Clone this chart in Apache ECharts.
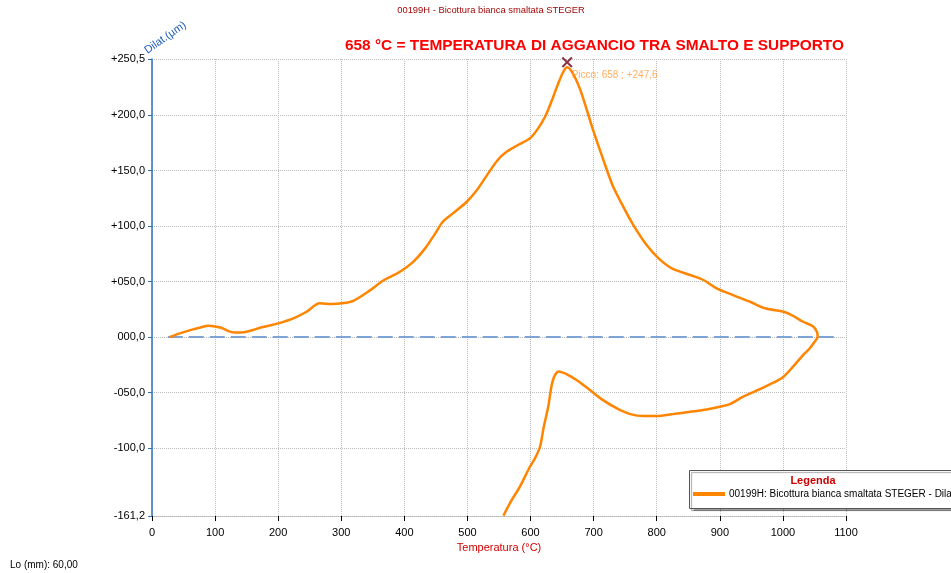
<!DOCTYPE html>
<html>
<head>
<meta charset="utf-8">
<script src="https://cdn.jsdelivr.net/npm/echarts@6/dist/echarts.min.js"></script>
<style>
  html, body { margin: 0; padding: 0; background: #fff; }
  #chart { width: 951px; height: 573px; }
</style>
</head>
<body>
<div id="chart"></div>
<script>
// Heating branch: temperature (°C) and dilatation (µm)
const heatTemp = [28, 44, 65, 78, 89, 100, 110, 121, 131, 145, 160, 171, 185, 200, 224, 245, 266, 285, 301, 319, 346, 366, 393, 414, 433, 449, 461, 477, 499, 515, 531, 548, 562, 580, 599, 612, 623, 634, 644, 652, 658, 667, 678, 689, 700, 721, 731, 747, 763, 784, 803, 824, 853, 874, 895, 921, 948, 972, 1001, 1014, 1032, 1048, 1054];
const heatDil  = [0, 3.3, 6.9, 8.8, 10.2, 9.6, 8.4, 5.4, 4.2, 4.4, 6.4, 8.4, 10.2, 12.3, 16.8, 22.8, 30.4, 29.7, 30.4, 32.7, 42.3, 50.7, 58.8, 67.8, 79.9, 93.4, 103.9, 111.4, 121.9, 132.4, 145.9, 159.5, 166.9, 173, 179, 188, 198.5, 213.5, 228.6, 239, 243, 237.6, 224, 205, 185, 150.5, 135.4, 117.4, 100.9, 82.9, 70.9, 61.9, 55.9, 51.4, 43.9, 37.8, 31.8, 25.9, 22.8, 19.8, 13.8, 9.5, 4.5];

// Cooling branch
const coolTemp = [1055, 1050, 1042, 1032, 1016, 1001, 985, 958, 937, 916, 900, 879, 853, 826, 800, 779, 758, 737, 715, 694, 673, 657, 650, 644, 640, 636, 633, 628, 621, 615, 607, 599, 583, 570, 557];
const coolDil  = [0.3, -4.5, -10.5, -16.2, -26.7, -35.7, -41.1, -48.3, -53.7, -60.4, -62.8, -65.2, -67.3, -69.4, -71.2, -71.2, -69.4, -64.3, -56.8, -47.7, -38.7, -33.3, -31.8, -31.1, -33, -38, -44.8, -62.8, -80.8, -98.8, -109.3, -116.8, -134.9, -147, -161];

// Peak reading
const peakTemp = 658;
const peakDil = 247.6;

// Zero reference line extent (°C)
const zeroLineTemp = [25, 1090];

// Axis ticks
const xMin = 0, xMax = 1100, xStep = 100;
const yTickValues = [-161.2, -100, -50, 0, 50, 100, 150, 200, 250.5];
const yTickLabels = ['-161,2', '-100,0', '-050,0', '000,0', '+050,0', '+100,0', '+150,0', '+200,0', '+250,5'];

const seriesName = '00199H: Bicottura bianca smaltata STEGER - Dilatazione';
const FONT = '"Liberation Sans", Arial, sans-serif';

const curve = heatTemp.map((t, i) => [t, heatDil[i]])
  .concat(coolTemp.map((t, i) => [t, coolDil[i]]));

function yLabel(v) {
  let best = 0;
  yTickValues.forEach((t, i) => { if (Math.abs(t - v) < Math.abs(yTickValues[best] - v)) best = i; });
  return yTickLabels[best];
}

const peakText = 'Picco: ' + peakTemp + ' ; +' + peakDil.toFixed(1).replace('.', ',');

const chart = echarts.init(document.getElementById('chart'), null, { renderer: 'canvas' });
chart.setOption({
  animation: false,
  backgroundColor: '#ffffff',
  textStyle: { fontFamily: FONT },
  grid: { left: 152, right: 105, top: 59, bottom: 57, containLabel: false },
  xAxis: {
    type: 'value',
    min: xMin, max: xMax, interval: xStep,
    name: 'Temperatura (°C)',
    nameLocation: 'middle',
    nameGap: 25,
    nameTextStyle: { color: '#d40000', fontSize: 11, fontFamily: FONT, verticalAlign: 'top' },
    axisLine: { show: true, onZero: false, lineStyle: { color: '#b5b5b5', width: 1, type: 'dotted' } },
    axisTick: { show: true, length: 5, lineStyle: { color: '#000' } },
    axisLabel: { color: '#000', fontSize: 11, margin: 11, fontFamily: FONT, formatter: v => String(v) },
    splitLine: { show: true, lineStyle: { color: '#bcbcbc', width: 1, type: 'dotted' } }
  },
  yAxis: {
    type: 'value',
    min: -161.2, max: 250.5,
    axisLine: { show: true, onZero: false, lineStyle: { color: '#2f6fc4', width: 1.5 } },
    axisTick: { show: true, length: 4, customValues: yTickValues, lineStyle: { color: '#2f6fc4' } },
    axisLabel: { customValues: yTickValues, formatter: yLabel, color: '#000', fontSize: 11, margin: 7, fontFamily: FONT },
    splitLine: { show: true, lineStyle: { color: '#bcbcbc', width: 1, type: 'dotted' } }
  },
  legend: {
    show: true,
    data: [seriesName],
    left: 693, top: 489,
    padding: 0,
    icon: 'rect',
    itemWidth: 32, itemHeight: 4,
    itemGap: 4,
    z: 10,
    textStyle: { color: '#000', fontSize: 10, fontFamily: FONT, padding: [0, 0, 0, -1] }
  },
  graphic: [
    {
      type: 'text', x: 491, y: 10, z: 10,
      style: { text: '00199H - Bicottura bianca smaltata STEGER', fill: '#9e0000', font: '9.4px ' + FONT, textAlign: 'center', textVerticalAlign: 'middle' }
    },
    {
      type: 'text', x: 345, y: 46, z: 10,
      style: { text: '658 °C = TEMPERATURA DI AGGANCIO TRA SMALTO E SUPPORTO', fill: '#ff0000', font: 'bold 15.4px ' + FONT, textAlign: 'left', textVerticalAlign: 'middle' }
    },
    {
      type: 'text', x: 149, y: 56, rotation: Math.PI * 35 / 180, z: 10,
      style: { text: 'Dilat.(µm)', fill: '#1a5db8', font: '11px ' + FONT, textAlign: 'left', textVerticalAlign: 'bottom' }
    },
    {
      type: 'text', x: 10, y: 565, z: 10,
      style: { text: 'Lo (mm): 60,00', fill: '#000', font: '10px ' + FONT, textAlign: 'left', textVerticalAlign: 'middle' }
    },
    {
      type: 'rect', z: 5,
      shape: { x: 689.5, y: 470.5, width: 300, height: 38 },
      style: { fill: '#fff', stroke: '#555', lineWidth: 1, shadowColor: 'rgba(0,0,0,0.35)', shadowOffsetX: 2, shadowOffsetY: 2, shadowBlur: 1 }
    },
    {
      type: 'text', x: 813, y: 481, z: 10,
      style: { text: 'Legenda', fill: '#cc0000', font: 'bold 11px ' + FONT, textAlign: 'center', textVerticalAlign: 'middle' }
    }
  ],
  series: [
    {
      name: 'zero',
      type: 'line',
      data: zeroLineTemp.map(t => [t, 0]),
      showSymbol: false,
      silent: true,
      z: 2,
      lineStyle: { color: '#7ea3d6', width: 2, type: [15, 6] }
    },
    {
      name: seriesName,
      type: 'line',
      data: curve,
      showSymbol: false,
      smooth: 0.3,
      z: 3,
      color: '#ff8400',
      lineStyle: { color: '#ff8400', width: 2.5 }
    },
    {
      name: 'picco',
      type: 'scatter',
      data: [[peakTemp, peakDil]],
      symbol: 'path://M0,1.3 L1.3,0 L10,8.7 L8.7,10 Z M8.7,0 L10,1.3 L1.3,10 L0,8.7 Z',
      symbolSize: 11,
      z: 4,
      itemStyle: { color: '#6e0014' },
      label: {
        show: true,
        position: 'right',
        distance: 0,
        offset: [-1, 13],
        formatter: peakText,
        color: '#ff9a3a',
        fontSize: 10,
        fontFamily: FONT
      }
    }
  ]
});
</script>
</body>
</html>
